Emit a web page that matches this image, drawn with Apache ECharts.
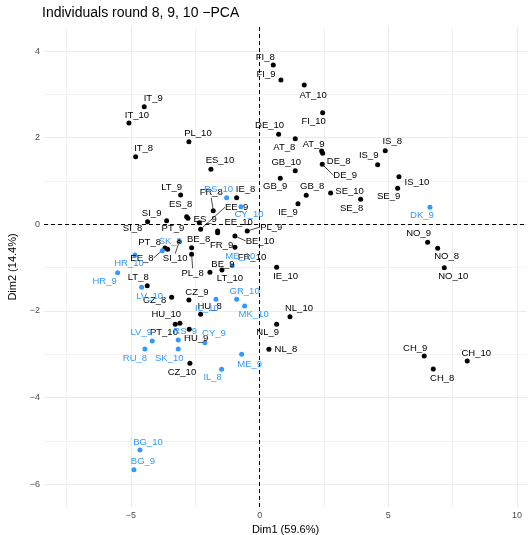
<!DOCTYPE html>
<html><head><meta charset="utf-8">
<script src="https://cdn.jsdelivr.net/npm/echarts@6/dist/echarts.min.js"></script>
<style>html,body{margin:0;padding:0;background:#fff}#c{width:532px;height:535px}</style>
</head><body><div id="c"></div>
<script>
// ---- data ----
const titleText = 'Individuals round 8, 9, 10 \u2212PCA';
const xName = 'Dim1 (59.6%)';
const yName = 'Dim2 (14.4%)';
const xTicks = [-5, 0, 5, 10];
const yTicks = [-6, -4, -2, 0, 2, 4];
const xMinor = [-7.5, -2.5, 2.5, 7.5];
const yMinor = [-5, -3, -1, 1, 3];

const blackNames = ['AT_8','AT_9','AT_10','BE_8','BE_9','BE_10','CH_8','CH_9','CH_10','CZ_8','CZ_9','CZ_10',
  'DE_8','DE_9','DE_10','EE_8','EE_9','EE_10','ES_8','ES_9','ES_10','FI_8','FI_9','FI_10','FR_8','FR_9','FR_10',
  'GB_8','GB_9','GB_10','HU_8','HU_9','HU_10','IE_8','IE_9','IE_10','IS_8','IS_9','IS_10','IT_8','IT_9','IT_10',
  'LT_8','LT_9','LT_10','NL_8','NL_9','NL_10','NO_8','NO_9','NO_10','PL_8','PL_9','PL_10','PT_8','PT_9','PT_10',
  'SE_8','SE_9','SE_10','SI_8','SI_9','SI_10'];
const blackDim1 = [1.384,2.410,1.733,-2.643,-1.932,-0.960,6.747,6.397,8.068,-3.420,-2.748,-2.709,
  2.449,2.433,0.738,-3.680,-2.293,-1.632,-2.837,-2.347,-1.893,0.529,0.828,2.449,-1.803,-1.632,-0.960,
  1.811,0.801,1.384,-2.293,-2.736,-3.280,-0.894,1.489,0.661,4.881,4.586,5.414,-4.819,-4.485,-5.080,
  -4.368,-3.070,-1.465,0.361,0.661,1.178,6.918,6.529,7.175,-2.643,-0.482,-2.748,-3.576,-2.787,-3.098,
  3.925,5.363,2.759,-4.353,-3.614,-3.125];
const blackDim2 = [1.977,1.693,3.217,-0.540,-1.109,-0.270,-3.342,-3.042,-3.157,-1.686,-1.748,-3.210,
  1.640,1.386,2.079,-0.547,-0.115,-0.155,0.176,0.037,1.270,3.679,3.333,2.577,0.314,-0.194,-0.531,
  0.670,1.062,1.238,-2.079,-2.425,-2.309,0.614,0.476,-0.993,1.700,1.376,1.099,1.561,2.716,2.339,
  -1.418,0.677,-1.055,-2.887,-2.309,-2.134,-0.554,-0.416,-1.002,-0.693,-0.155,1.908,-0.577,0.139,-2.286,
  0.577,0.831,0.723,0.060,0.083,-0.402];

const blueNames = ['BG_9','BG_10','CY_9','CY_10','DK_9','GR_10','HR_9','HR_10','IL_8','IL_10','LV_9','LV_10',
  'ME_9','ME_10','MK_10','RS_9','RS_10','RU_8','SK_9','SK_10'];
const blueDim1 = [-4.885,-4.652,-2.126,-0.727,6.619,-0.894,-5.519,-4.846,-1.477,-1.698,-4.174,-4.586,
  -0.700,-1.065,-0.583,-3.164,-1.283,-4.458,-3.785,-3.164];
const blueDim2 = [-5.667,-5.212,-2.734,0.406,0.393,-1.732,-1.118,-0.709,-3.349,-1.732,-2.695,-1.455,
  -3.002,-0.956,-1.887,-2.672,0.614,-2.880,-0.610,-2.880];

// ---- styling: label displacement (px) from its point, and which labels get a leader segment ----
const labelShift = {
  AT_8:[-11,9],AT_9:[-8,-7],AT_10:[9,10],BE_8:[7,-8],BE_9:[13,-8],BE_10:[25,5],CH_8:[9,9],CH_9:[-9,-8],CH_10:[9,-8],
  CZ_8:[-17,3],CZ_9:[8,-8],CZ_10:[-8,9],DE_8:[16,8],DE_9:[23,11],DE_10:[-9,-9],EE_8:[-23,10],EE_9:[36,-22],EE_10:[21,-9],
  ES_8:[-6,-12],ES_9:[6,-3],ES_10:[9,-9],FI_8:[-8,-8],FI_9:[-15,-6],FI_10:[-9,9],FR_8:[-2,-18],FR_9:[4,13],FR_10:[17,10],
  GB_8:[6,-9],GB_9:[-5,8],GB_10:[-9,-8],HU_8:[9,-8],HU_9:[7,9],HU_10:[-9,-10],IE_8:[9,-8],IE_9:[-10,9],IE_10:[9,9],
  IS_8:[7,-9],IS_9:[-9,-9],IS_10:[18,6],IT_8:[8,-8],IT_9:[9,-8],IT_10:[8,-8],LT_8:[-9,-8],LT_9:[-9,-8],LT_10:[8,8],
  NL_8:[17,0],NL_9:[-9,8],NL_10:[9,-8],NO_8:[9,8],NO_9:[-9,-9],NO_10:[9,9],PL_8:[1,19],PL_9:[24,-4],PL_10:[9,-8],
  PT_8:[-18,-7],PT_9:[-15,10],PT_10:[-16,9],SE_8:[-9,9],SE_9:[-9,8],SE_10:[19,-2],SI_8:[-15,7],SI_9:[-15,-7],SI_10:[-4,17],
  BG_9:[9,-8],BG_10:[8,-8],CY_9:[9,-9],CY_10:[8,8],DK_9:[-8,8],GR_10:[8,-8],HR_9:[-13,9],HR_10:[-6,8],IL_8:[-9,8],
  IL_10:[-9,9],LV_9:[-11,-9],LV_10:[8,9],ME_9:[8,10],ME_10:[8,-9],MK_10:[9,8],RS_9:[7,-9],RS_10:[-8,-8],RU_8:[-10,9],
  SK_9:[8,-9],SK_10:[-9,9]
};
const leaders = ['FR_8','EE_9','PL_9','PL_8','SI_10','EE_8','DE_9','BE_10'];

const BLUE = '#3399FF';
const FONT = '"Liberation Sans", Arial, Helvetica, sans-serif';

function items(names, d1, d2) {
  return names.map((n, i) => ({
    name: n, value: [d1[i], d2[i]],
    labelLine: { show: leaders.indexOf(n) >= 0 }
  }));
}
const fmtMinus = v => String(v).replace('-', '\u2212');

function pointSeries(names, d1, d2, color) {
  return {
    type: 'scatter', z: 5, silent: true,
    data: items(names, d1, d2),
    symbolSize: 5,
    itemStyle: { color: color, opacity: 1 },
    label: { show: true, position: 'inside', formatter: p => p.name, color: color,
             fontSize: 9.5, fontFamily: FONT },
    labelLine: { show: false, lineStyle: { color: '#000', width: 0.7 } },
    labelLayout: p => { const s = labelShift[p.text] || [0, -9]; return { dx: s[0], dy: s[1], hideOverlap: false }; }
  };
}

const gridMarks = [];
xTicks.forEach(v => gridMarks.push({ xAxis: v, lineStyle: { color: '#ebebeb', width: 1.1, type: 'solid' } }));
xMinor.forEach(v => gridMarks.push({ xAxis: v, lineStyle: { color: '#f0f0f0', width: 0.8, type: 'solid' } }));
yTicks.forEach(v => gridMarks.push({ yAxis: v, lineStyle: { color: '#ebebeb', width: 1.1, type: 'solid' } }));
yMinor.forEach(v => gridMarks.push({ yAxis: v, lineStyle: { color: '#f0f0f0', width: 0.8, type: 'solid' } }));

const chart = echarts.init(document.getElementById('c'), null, { renderer: 'canvas' });
chart.setOption({
  animation: false,
  backgroundColor: '#fff',
  title: { text: titleText, left: 42, top: 6, padding: 0,
           textStyle: { fontSize: 14, fontWeight: 'normal', color: '#000', fontFamily: FONT } },
  grid: { left: 44, right: 5, top: 27, bottom: 28, outerBoundsMode: 'none' },
  xAxis: {
    type: 'value', min: -8.38, max: 10.39,
    name: xName, nameLocation: 'middle', nameGap: 14,
    nameTextStyle: { fontSize: 11, color: '#000', fontFamily: FONT },
    axisLine: { show: false }, splitLine: { show: false },
    axisTick: { show: true, customValues: xTicks, length: 3, lineStyle: { color: '#333', width: 1 } },
    axisLabel: { customValues: xTicks, formatter: fmtMinus, color: '#4d4d4d', fontSize: 9, margin: 4, fontFamily: FONT }
  },
  yAxis: {
    type: 'value', min: -6.53, max: 4.556,
    name: yName, nameLocation: 'middle', nameGap: 26, nameRotate: 90,
    nameTextStyle: { fontSize: 11, color: '#000', fontFamily: FONT },
    axisLine: { show: false }, splitLine: { show: false },
    axisTick: { show: true, customValues: yTicks, length: 3, lineStyle: { color: '#333', width: 1 } },
    axisLabel: { customValues: yTicks, formatter: fmtMinus, color: '#4d4d4d', fontSize: 9, margin: 4, fontFamily: FONT }
  },
  series: [
    { type: 'line', data: [], silent: true, z: 1,
      markLine: { silent: true, symbol: ['none', 'none'], label: { show: false }, animation: false, data: gridMarks } },
    { type: 'line', data: [], silent: true, z: 2,
      markLine: { silent: true, symbol: ['none', 'none'], label: { show: false }, animation: false,
        lineStyle: { color: '#000', width: 1, type: [4, 3] },
        data: [{ xAxis: 0 }, { yAxis: 0 }] } },
    pointSeries(blackNames, blackDim1, blackDim2, '#000'),
    pointSeries(blueNames, blueDim1, blueDim2, BLUE)
  ]
});
</script></body></html>
